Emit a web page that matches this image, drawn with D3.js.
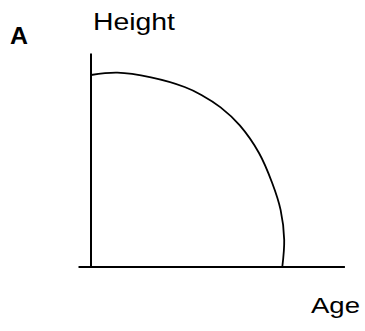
<!DOCTYPE html>
<html>
<head>
<meta charset="utf-8">
<script src="https://cdn.jsdelivr.net/npm/d3@7"></script>
<style>
  html, body { margin: 0; padding: 0; background: #fff; }
  svg { display: block; }
  text { font-family: "Liberation Sans", Arial, sans-serif; fill: #000; }
</style>
</head>
<body>
<div id="chart"></div>
<script>
// growth curve
const age = [0, 1.1, 2.5, 3.9, 4.6, 5.4, 6.2, 7.0, 7.55, 7.9, 8.05, 7.97];
const height = [8.0, 8.1, 7.9, 7.5, 7.17, 6.65, 5.9, 4.75, 3.5, 2.38, 1.13, 0];

const panelLabel = "A";
const xLabel = "Age";
const yLabel = "Height";

const width = 365, height_px = 331;

const svg = d3.select("#chart").append("svg")
    .attr("width", width)
    .attr("height", height_px);

const x = d3.scaleLinear().domain([0, 10]).range([91, 331]);
const y = d3.scaleLinear().domain([0, 10]).range([267, 27]);

// axes: plain lines, no ticks
svg.append("line")
    .attr("x1", x(-0.52)).attr("x2", x(10.58))
    .attr("y1", y(0)).attr("y2", y(0))
    .attr("stroke", "#000").attr("stroke-width", 2);

svg.append("line")
    .attr("x1", x(0)).attr("x2", x(0))
    .attr("y1", y(0)).attr("y2", y(8.9))
    .attr("stroke", "#000").attr("stroke-width", 2);

const pts = age.map((a, i) => [a, height[i]]);

const line = d3.line()
    .x(d => x(d[0]))
    .y(d => y(d[1]))
    .curve(d3.curveCatmullRom);

svg.append("path")
    .datum(pts)
    .attr("d", line)
    .attr("fill", "none")
    .attr("stroke", "#000")
    .attr("stroke-width", 1.8);

svg.append("text")
    .attr("x", 10).attr("y", 43.5)
    .attr("font-size", 23).attr("font-weight", "bold")
    .attr("textLength", 18).attr("lengthAdjust", "spacingAndGlyphs")
    .text(panelLabel);

svg.append("text")
    .attr("x", 93).attr("y", 30)
    .attr("font-size", 24.5)
    .attr("textLength", 82).attr("lengthAdjust", "spacingAndGlyphs")
    .text(yLabel);

svg.append("text")
    .attr("x", 311).attr("y", 313)
    .attr("font-size", 22.5)
    .attr("textLength", 49).attr("lengthAdjust", "spacingAndGlyphs")
    .text(xLabel);
</script>
</body>
</html>
